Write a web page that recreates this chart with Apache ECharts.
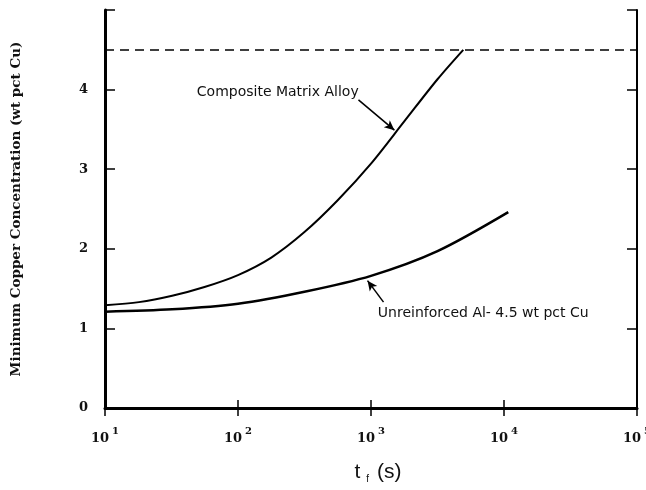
<!DOCTYPE html>
<html>
<head>
<meta charset="utf-8">
<script src="https://cdn.jsdelivr.net/npm/echarts@6/dist/echarts.min.js"></script>
<style>html,body{margin:0;padding:0;background:#fff;}#c{width:646px;height:490px;}</style>
</head>
<body>
<div id="c"></div>
<script>
// Data
var compositeT  = [10, 18, 32, 56, 100, 178, 316, 562, 1000, 1778, 3162, 4940];
var compositeCu = [1.29, 1.33, 1.41, 1.52, 1.67, 1.89, 2.21, 2.61, 3.07, 3.60, 4.13, 4.5];
var unreinforcedT  = [10, 32, 100, 316, 1000, 3162, 10770];
var unreinforcedCu = [1.21, 1.24, 1.31, 1.46, 1.66, 1.97, 2.46];
var equilibriumCu = 4.5;
var yTicks = [0, 1, 2, 3, 4];
var xTickExponents = [1, 2, 3, 4, 5];
var labelComposite = 'Composite Matrix Alloy';
var labelUnreinforced = 'Unreinforced Al- 4.5 wt pct Cu';

function pairs(t, v) { return t.map(function (x, i) { return [x, v[i]]; }); }

var serif = '"DejaVu Serif", "Liberation Serif", serif';
var sans = '"DejaVu Sans", "Liberation Sans", Arial, sans-serif';
var sans2 = '"Liberation Sans", Arial, sans-serif';

var textPoint = {
  symbol: 'rect', symbolSize: 1, silent: true,
  itemStyle: {color: 'rgba(0,0,0,0)'},
  label: {show: true, position: 'inside', fontFamily: sans, fontSize: 14, color: '#111'}
};

var chart = echarts.init(document.getElementById('c'), null, {renderer: 'canvas'});
chart.setOption({
  backgroundColor: '#fff',
  animation: false,
  grid: {left: 105, right: 9, top: 10, bottom: 82, containLabel: false, outerBoundsMode: 'none'},
  xAxis: [{
    type: 'log', logBase: 10, min: 10, max: 100000, position: 'bottom',
    name: '{a|t}{sub|f}{a|(s)}', nameLocation: 'middle', nameGap: 52,
    nameTextStyle: {padding: [0, 0, 0, 14], rich: {
      a: {fontFamily: sans2, fontSize: 21, color: '#111'},
      sub: {fontFamily: sans2, fontSize: 10, color: '#111', padding: [14, 8, 0, 6]}
    }},
    axisLine: {lineStyle: {color: '#000', width: 3}},
    axisTick: {inside: true, length: 8, lineStyle: {color: '#000', width: 1.5}},
    splitLine: {show: false}, minorTick: {show: false},
    axisLabel: {
      margin: 16,
      formatter: function (v) { return '{b|10}{s|' + Math.round(Math.log10(v)) + '}'; },
      rich: {
        b: {fontFamily: serif, fontWeight: 'bold', fontSize: 13, color: '#111', padding: [8, 0, 0, 0]},
        s: {fontFamily: serif, fontWeight: 'bold', fontSize: 10, color: '#111', padding: [0, 0, 6, 3]}
      }
    }
  }, {
    type: 'log', logBase: 10, min: 10, max: 100000, position: 'top',
    axisLine: {lineStyle: {color: '#000', width: 2}},
    axisTick: {inside: true, length: 8, lineStyle: {color: '#000', width: 1.5}},
    axisLabel: {show: false}, splitLine: {show: false}
  }],
  yAxis: [{
    type: 'value', min: 0, max: 5, interval: 1, position: 'left',
    name: 'Minimum Copper Concentration (wt pct Cu)', nameLocation: 'middle', nameGap: 82,
    nameTextStyle: {fontFamily: serif, fontWeight: 'bold', fontSize: 13.5, color: '#111'},
    axisLine: {show: true, lineStyle: {color: '#000', width: 3}},
    axisTick: {show: true, inside: true, length: 10, lineStyle: {color: '#000', width: 1.5}},
    splitLine: {show: false},
    axisLabel: {
      margin: 17, fontFamily: serif, fontWeight: 'bold', fontSize: 13, color: '#111',
      formatter: function (v) { return yTicks.indexOf(v) >= 0 ? String(v) : ''; }
    }
  }, {
    type: 'value', min: 0, max: 5, interval: 1, position: 'right',
    axisLine: {show: true, lineStyle: {color: '#000', width: 2}},
    axisTick: {show: true, inside: true, length: 10, lineStyle: {color: '#000', width: 1.5}},
    axisLabel: {show: false}, splitLine: {show: false}
  }],
  series: [{
    name: labelComposite, type: 'line', smooth: 0.3, showSymbol: false,
    data: pairs(compositeT, compositeCu),
    lineStyle: {color: '#000', width: 2},
    markLine: {
      silent: true, symbol: 'none',
      lineStyle: {color: '#000', type: [9, 6], width: 1.5},
      label: {show: false},
      data: [{yAxis: equilibriumCu}]
    },
    markPoint: Object.assign({}, textPoint, {
      label: Object.assign({}, textPoint.label, {formatter: labelComposite}),
      data: [{coord: [199, 3.97]}]
    })
  }, {
    name: labelUnreinforced, type: 'line', smooth: 0.3, showSymbol: false,
    data: pairs(unreinforcedT, unreinforcedCu),
    lineStyle: {color: '#000', width: 2.5},
    markPoint: Object.assign({}, textPoint, {
      label: Object.assign({}, textPoint.label, {formatter: labelUnreinforced}),
      data: [{coord: [6980, 1.19]}]
    })
  }, {
    type: 'line', data: [], silent: true,
    markLine: {
      silent: true, symbol: ['none', 'arrow'], symbolSize: [7, 10],
      lineStyle: {color: '#000', type: 'solid', width: 1.5},
      label: {show: false},
      data: [
        [{coord: [805, 3.87]}, {coord: [1500, 3.49]}],
        [{coord: [1242, 1.33]}, {coord: [942, 1.60]}]
      ]
    }
  }]
});
</script>
</body>
</html>
